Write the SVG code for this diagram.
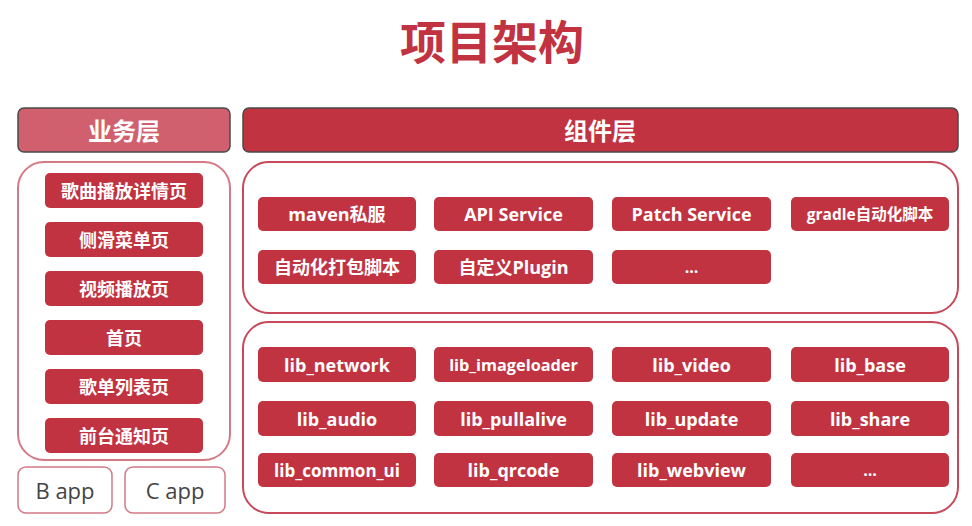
<svg xmlns="http://www.w3.org/2000/svg" width="972" height="526" viewBox="0 0 972 526">
  <style>
    .t { font-family: "Open Sans", "Noto Sans CJK SC", sans-serif; font-weight: bold; fill: #ffffff; text-anchor: middle; dominant-baseline: central; }
    .box { fill: #c13341; }
    .frame { fill: #ffffff; stroke: #c64a5a; stroke-width: 2; }
    .frame-light { fill: #ffffff; stroke: #d47a86; stroke-width: 2; }
    .head { stroke: #4a4a4a; stroke-width: 1.5; }
    .app { fill: #ffffff; stroke: #d47a86; stroke-width: 1.5; }
    .app-t { font-family: "Open Sans", sans-serif; font-size: 22px; fill: #444444; text-anchor: middle; dominant-baseline: central; }
  </style>
  <rect width="972" height="526" fill="#ffffff"/>

  <!-- title -->
  <text x="492" y="41" class="t" style="font-size:46px;fill:#c13341">项目架构</text>

  <!-- business layer -->
  <g id="biz-head">
    <rect x="18" y="108" width="212" height="44" rx="6" class="head" fill="#d1606e"/>
    <text x="124" y="130" class="t" style="font-size:24px">业务层</text>
  </g>
  <g id="biz-frame">
    <rect x="18" y="162" width="212" height="298" rx="26" class="frame-light"/>
  </g>
  <g id="biz-1"><rect x="45" y="173" width="158" height="35" rx="5" class="box"/><text x="124" y="190.5" class="t" style="font-size:18px">歌曲播放详情页</text></g>
  <g id="biz-2"><rect x="45" y="222" width="158" height="35" rx="5" class="box"/><text x="124" y="239.5" class="t" style="font-size:18px">侧滑菜单页</text></g>
  <g id="biz-3"><rect x="45" y="271" width="158" height="35" rx="5" class="box"/><text x="124" y="288.5" class="t" style="font-size:18px">视频播放页</text></g>
  <g id="biz-4"><rect x="45" y="320" width="158" height="35" rx="5" class="box"/><text x="124" y="337.5" class="t" style="font-size:18px">首页</text></g>
  <g id="biz-5"><rect x="45" y="369" width="158" height="35" rx="5" class="box"/><text x="124" y="386.5" class="t" style="font-size:18px">歌单列表页</text></g>
  <g id="biz-6"><rect x="45" y="418" width="158" height="35" rx="5" class="box"/><text x="124" y="435.5" class="t" style="font-size:18px">前台通知页</text></g>

  <g id="b-app"><rect x="18" y="467" width="94" height="46" rx="8" class="app"/><text x="65" y="490" class="app-t">B app</text></g>
  <g id="c-app"><rect x="125" y="467" width="100" height="46" rx="8" class="app"/><text x="175" y="490" class="app-t">C app</text></g>

  <!-- component layer -->
  <g id="comp-head">
    <rect x="243" y="108" width="715" height="44" rx="6" class="head" fill="#c13341"/>
    <text x="600" y="130" class="t" style="font-size:24px">组件层</text>
  </g>
  <g id="tools-frame">
    <rect x="243" y="162" width="715" height="151" rx="26" class="frame"/>
  </g>
  <g id="tool-maven"><rect x="258" y="197" width="158" height="34" rx="5" class="box"/><text x="337" y="214" class="t" style="font-size:18px">maven私服</text></g>
  <g id="tool-api"><rect x="434" y="197" width="159" height="34" rx="5" class="box"/><text x="513.5" y="214" class="t" style="font-size:18px">API Service</text></g>
  <g id="tool-patch"><rect x="612" y="197" width="159" height="34" rx="5" class="box"/><text x="691.5" y="214" class="t" style="font-size:18px">Patch Service</text></g>
  <g id="tool-gradle"><rect x="791" y="197" width="158" height="34" rx="5" class="box"/><text x="870" y="214" class="t" style="font-size:15.5px">gradle自动化脚本</text></g>
  <g id="tool-pack"><rect x="258" y="250" width="158" height="34" rx="5" class="box"/><text x="337" y="267" class="t" style="font-size:18px">自动化打包脚本</text></g>
  <g id="tool-plugin"><rect x="434" y="250" width="159" height="34" rx="5" class="box"/><text x="513.5" y="267" class="t" style="font-size:18px">自定义Plugin</text></g>
  <g id="tool-more"><rect x="612" y="250" width="159" height="34" rx="5" class="box"/><text x="691.5" y="267" class="t" style="font-size:16px">...</text></g>

  <g id="libs-frame">
    <rect x="243" y="322" width="715" height="191" rx="26" class="frame"/>
  </g>
  <g id="lib-network"><rect x="258" y="347" width="158" height="35" rx="5" class="box"/><text x="337" y="364.5" class="t" style="font-size:18px">lib_network</text></g>
  <g id="lib-imageloader"><rect x="434" y="347" width="159" height="35" rx="5" class="box"/><text x="513.5" y="364.5" class="t" style="font-size:16.3px">lib_imageloader</text></g>
  <g id="lib-video"><rect x="612" y="347" width="159" height="35" rx="5" class="box"/><text x="691.5" y="364.5" class="t" style="font-size:18px">lib_video</text></g>
  <g id="lib-base"><rect x="791" y="347" width="158" height="35" rx="5" class="box"/><text x="870" y="364.5" class="t" style="font-size:18px">lib_base</text></g>
  <g id="lib-audio"><rect x="258" y="401" width="158" height="35" rx="5" class="box"/><text x="337" y="418.5" class="t" style="font-size:18px">lib_audio</text></g>
  <g id="lib-pullalive"><rect x="434" y="401" width="159" height="35" rx="5" class="box"/><text x="513.5" y="418.5" class="t" style="font-size:18px">lib_pullalive</text></g>
  <g id="lib-update"><rect x="612" y="401" width="159" height="35" rx="5" class="box"/><text x="691.5" y="418.5" class="t" style="font-size:18px">lib_update</text></g>
  <g id="lib-share"><rect x="791" y="401" width="158" height="35" rx="5" class="box"/><text x="870" y="418.5" class="t" style="font-size:18px">lib_share</text></g>
  <g id="lib-common-ui"><rect x="258" y="453" width="158" height="34" rx="5" class="box"/><text x="337" y="470" class="t" style="font-size:17px">lib_common_ui</text></g>
  <g id="lib-qrcode"><rect x="434" y="453" width="159" height="34" rx="5" class="box"/><text x="513.5" y="470" class="t" style="font-size:18px">lib_qrcode</text></g>
  <g id="lib-webview"><rect x="612" y="453" width="159" height="34" rx="5" class="box"/><text x="691.5" y="470" class="t" style="font-size:18px">lib_webview</text></g>
  <g id="lib-more"><rect x="791" y="453" width="158" height="34" rx="5" class="box"/><text x="870" y="470" class="t" style="font-size:16px">...</text></g>

  <!-- no connectors in this layout -->
  <g id="connectors"/>
</svg>
